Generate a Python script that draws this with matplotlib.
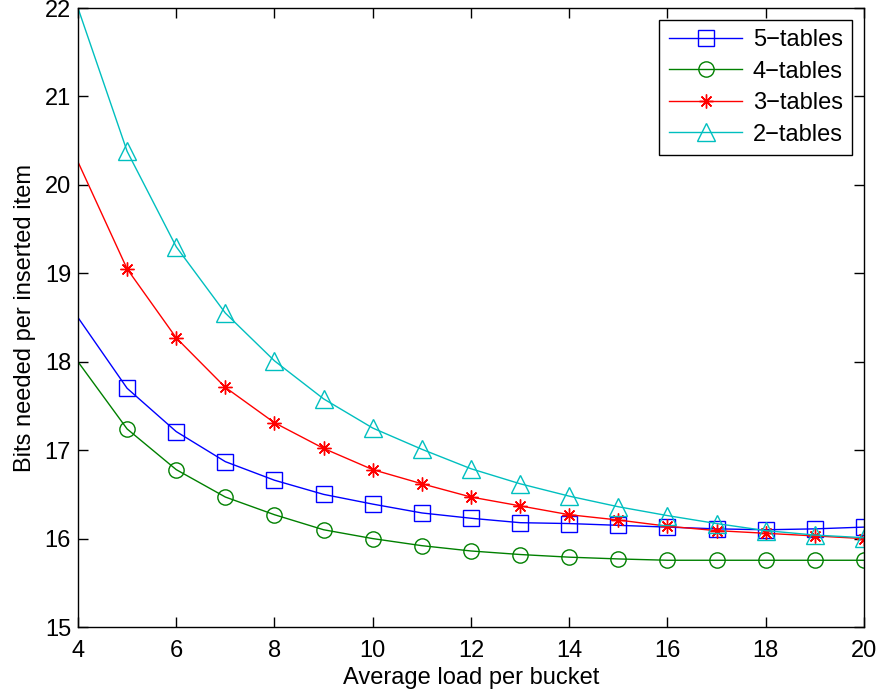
import matplotlib
matplotlib.use("Agg")
import matplotlib.pyplot as plt

x = [4, 5, 6, 7, 8, 9, 10, 11, 12, 13, 14, 15, 16, 17, 18, 19, 20]
tables5 = [18.50, 17.70, 17.21, 16.87, 16.66, 16.50, 16.39, 16.29, 16.23, 16.18, 16.17, 16.15, 16.13, 16.11, 16.10, 16.11, 16.13]
tables4 = [18.00, 17.24, 16.78, 16.47, 16.27, 16.10, 16.00, 15.92, 15.86, 15.82, 15.79, 15.77, 15.755, 15.755, 15.755, 15.755, 15.755]
tables3 = [20.26, 19.05, 18.27, 17.71, 17.31, 17.02, 16.78, 16.62, 16.47, 16.37, 16.27, 16.21, 16.14, 16.09, 16.06, 16.03, 16.00]
tables2 = [22.00, 20.38, 19.30, 18.55, 18.01, 17.58, 17.25, 17.01, 16.79, 16.62, 16.48, 16.36, 16.26, 16.17, 16.09, 16.04, 16.01]
labels = ["5\u2212tables", "4\u2212tables", "3\u2212tables", "2\u2212tables"]
xticks = [4, 6, 8, 10, 12, 14, 16, 18, 20]
yticks = [15, 16, 17, 18, 19, 20, 21, 22]

plt.rcParams['font.family'] = ['Liberation Sans', 'DejaVu Sans']
fig = plt.figure(figsize=(8.82, 6.96), dpi=100)
ax = fig.add_axes([0.0884, 0.0991, 0.8912, 0.8894])

series = [tables5, tables4, tables3, tables2]
colors = ["#0000ff", "#008000", "#ff0000", "#00bfbf"]
markers = ["s", "o", (8, 2, 0), "^"]
msizes = [11, 11, 10, 13]
for ys, c, m, ms, lab in zip(series, colors, markers, msizes, labels):
    ax.plot(x, ys, color=c, lw=1.0, marker=m, markersize=ms, markevery=list(range(1, len(x))),
            markerfacecolor='none', markeredgecolor=c, markeredgewidth=1.0, label=lab)

ax.set_xlim(4, 20)
ax.set_ylim(15, 22)
ax.set_xticks(xticks)
ax.set_yticks(yticks)
ax.tick_params(direction='in', top=True, right=True, labelsize=17, length=7, width=1, pad=5)
ax.tick_params(axis='x', pad=9)
for s in ax.spines.values():
    s.set_linewidth(1.0)
ax.set_xlabel("Average load per bucket", fontsize=17, labelpad=4)
ax.set_ylabel("Bits needed per inserted item", fontsize=17, labelpad=6)

leg = ax.legend(loc='upper right', fontsize=17, fancybox=False, edgecolor='black',
                framealpha=1, handlelength=3.1, borderpad=0.4, labelspacing=0.4,
                handletextpad=0.45, borderaxespad=0.5)
leg.get_frame().set_linewidth(1.0)

fig.savefig("out.png", dpi=100)
